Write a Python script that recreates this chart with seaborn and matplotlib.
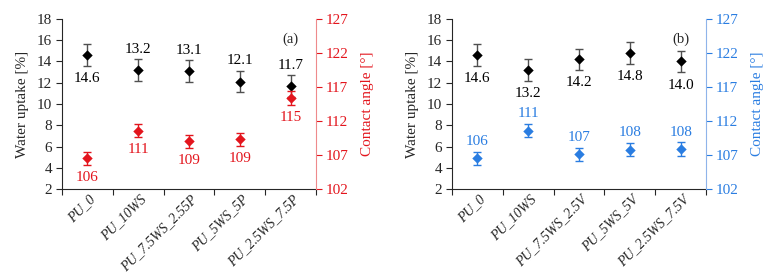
import numpy as np
import matplotlib
matplotlib.use("Agg")
import matplotlib.pyplot as plt
import seaborn as sns

# data
samples_a = ["PU_0", "PU_10WS", "PU_7.5WS_2.55P", "PU_5WS_5P", "PU_2.5WS_7.5P"]
samples_b = ["PU_0", "PU_10WS", "PU_7.5WS_2.5V", "PU_5WS_5V", "PU_2.5WS_7.5V"]

uptake_a = [14.6, 13.2, 13.1, 12.1, 11.7]
uptake_a_err = [1.0, 1.0, 1.0, 1.0, 1.0]
angle_a = [106.5, 110.6, 109.0, 109.3, 115.4]
angle_a_err = [1.0, 1.0, 0.9, 1.0, 1.0]
angle_a_lbl = ["106", "111", "109", "109", "115"]
uptake_a_above = [False, True, True, True, True]

uptake_b = [14.6, 13.2, 14.2, 14.8, 14.0]
uptake_b_err = [1.0, 1.0, 1.0, 1.0, 1.0]
angle_b = [106.5, 110.6, 107.1, 107.8, 107.9]
angle_b_err = [1.0, 1.0, 1.0, 1.0, 1.0]
angle_b_lbl = ["106", "111", "107", "108", "108"]
uptake_b_above = [False, False, False, False, False]

RED = "#e3151d"
RED_SPINE = "#ee8a8c"
BLUE = "#2a7de1"
BLUE_SPINE = "#8fb4ea"

sns.set_style("ticks")
plt.rcParams["font.family"] = ["Liberation Serif", "DejaVu Serif"]
plt.rcParams["font.size"] = 10.5

fig = plt.figure(figsize=(7.78, 2.78), dpi=100)


def panel(rect, names, up, up_err, up_above, ang, ang_err, ang_lbl, ang_above,
          col, spine_col, tag):
    ax = fig.add_axes(rect)
    x = np.arange(len(names))

    sns.scatterplot(x=names, y=up, ax=ax, marker="D", s=28, color="black",
                    edgecolor="black", linewidth=0, zorder=3)
    ax.errorbar(x, up, yerr=up_err, fmt="none", ecolor="#505050",
                elinewidth=1, capsize=3.2, capthick=1, zorder=2)
    for xi, v, above in zip(x, up, up_above):
        ax.annotate(f"{v:.1f}", (xi, v), xytext=(0, 15 if above else -17),
                    textcoords="offset points", ha="center", va="center",
                    fontsize=11, color="black")

    ax.set_xlim(-0.5, len(names) - 0.5)
    ax.set_ylim(2, 18)
    ax.set_yticks(np.arange(2, 19, 2))
    ax.set_ylabel("Water uptake [%]", fontsize=11, labelpad=6)
    # label anchors sit a little right of the category centres, as in the original
    ax.set_xticks(x + 0.12)
    ax.set_xticklabels(names, rotation=45, ha="right", va="center",
                       rotation_mode="anchor", fontstyle="italic", fontsize=10)
    ax.tick_params(axis="x", length=0, pad=6)
    ax.set_xticks(np.arange(-0.5, len(names), 1), minor=True)
    ax.tick_params(axis="x", which="minor", length=4, width=0.8)
    ax.tick_params(axis="y", length=4, width=0.8, pad=3, labelsize=11)
    ax.spines["top"].set_visible(False)
    ax.spines["right"].set_visible(False)
    ax.text(4.0, 16.1, tag, ha="center", va="center", fontsize=10.5)

    ax2 = ax.twinx()
    ax2.errorbar(x, ang, yerr=ang_err, fmt="none", ecolor=col,
                 elinewidth=1, capsize=3.2, capthick=1, zorder=2)
    sns.scatterplot(x=x, y=ang, ax=ax2, marker="D", s=28, color=col,
                    linewidth=0, zorder=3)
    for xi, v, lbl in zip(x, ang, ang_lbl):
        ax2.annotate(lbl, (xi, v), xytext=(0, 12 if ang_above else -14),
                     textcoords="offset points", ha="center", va="center",
                     fontsize=11, color=col)
    ax2.set_ylim(102, 127)
    ax2.set_yticks(np.arange(102, 128, 5))
    ax2.set_ylabel("Contact angle [°]", color=col, fontsize=11, labelpad=9)
    ax2.tick_params(axis="y", colors=col, length=4, width=0.8, pad=3,
                    labelsize=11)
    ax2.spines["top"].set_visible(False)
    ax2.spines["left"].set_visible(False)
    ax2.spines["bottom"].set_visible(False)
    ax2.spines["right"].set_color(spine_col)
    ax2.set_xlim(-0.5, len(names) - 0.5)


panel([0.0797, 0.32, 0.3265, 0.612], samples_a, uptake_a, uptake_a_err,
      uptake_a_above, angle_a, angle_a_err, angle_a_lbl, False, RED, RED_SPINE, "(a)")
panel([0.581, 0.32, 0.3265, 0.612], samples_b, uptake_b, uptake_b_err,
      uptake_b_above, angle_b, angle_b_err, angle_b_lbl, True, BLUE, BLUE_SPINE, "(b)")

fig.savefig("out.png", dpi=100)
